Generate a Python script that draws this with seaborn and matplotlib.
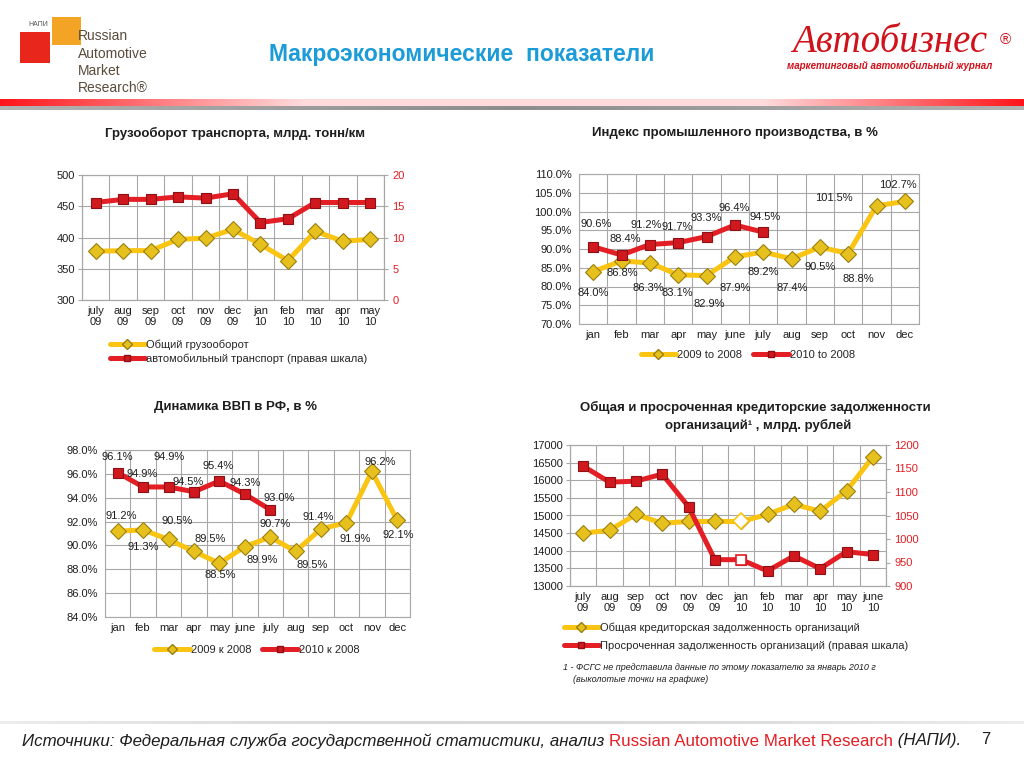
import numpy as np
import seaborn as sns
import matplotlib.pyplot as plt
from matplotlib.lines import Line2D
from matplotlib.patches import Rectangle
from matplotlib.ticker import FuncFormatter

# ---------------- data ----------------
freight_months = ['july\n09', 'aug\n09', 'sep\n09', 'oct\n09', 'nov\n09', 'dec\n09',
                  'jan\n10', 'feb\n10', 'mar\n10', 'apr\n10', 'may\n10']
freight_total = [378, 379, 379, 397, 399, 413, 389, 363, 410, 394, 397]
freight_auto = [15.6, 16.1, 16.1, 16.5, 16.3, 17.0, 12.4, 13.0, 15.6, 15.6, 15.6]

months = ['jan', 'feb', 'mar', 'apr', 'may', 'june', 'july', 'aug', 'sep', 'oct', 'nov', 'dec']
ipi_2009 = [84.0, 86.8, 86.3, 83.1, 82.9, 87.9, 89.2, 87.4, 90.5, 88.8, 101.5, 102.7]
ipi_2010 = [90.6, 88.4, 91.2, 91.7, 93.3, 96.4, 94.5]

gdp_2009 = [91.2, 91.3, 90.5, 89.5, 88.5, 89.9, 90.7, 89.5, 91.4, 91.9, 96.2, 92.1]
gdp_2010 = [96.1, 94.9, 94.9, 94.5, 95.4, 94.3, 93.0]

debt_months = ['july\n09', 'aug\n09', 'sep\n09', 'oct\n09', 'nov\n09', 'dec\n09',
               'jan\n10', 'feb\n10', 'mar\n10', 'apr\n10', 'may\n10', 'june\n10']
debt_total = [14500, 14580, 15030, 14780, 14830, 14830, 14830, 15030, 15320, 15120, 15700, 16660]
debt_overdue = [1155, 1121, 1123, 1138, 1069, 956, 956, 932, 964, 937, 973, 967]
debt_missing = ['jan\n10']

# label offsets in pixels (dx, dy; dy down is positive)
ipi_2009_off = [(0, 21), (1, 12), (-2, 25), (-1, 18), (3, 28), (0, 31), (0, 20), (1, 29),
                (0, 20), (10, 26), (-43, -8), (-7, -16)]
ipi_2010_off = [(3, -23), (4, -16), (-4, -19), (-1, -16), (0, -19), (-1, -17), (2, -15)]
gdp_2009_off = [(4, -15), (0, 17), (9, -18), (16, -12), (1, 12), (17, 13), (5, -13),
                (17, 14), (-3, -12), (9, 16), (8, -9), (1, 15)]
gdp_2010_off = [(0, -16), (-1, -13), (1, -30), (-6, -10), (-1, -15), (0, -11), (9, -12)]

# ---------------- style ----------------
W, H = 1024, 768
YEL = '#F9C512'
YEL_F = '#E6C01C'
YEL_E = '#9A7F0E'
RED = '#E31E24'
RED_F = '#D0181E'
RED_E = '#8C1014'
GRID = '#A8A8A8'
TXT = '#1E1E1E'
BLUE = '#1B9BD7'

sns.set_style('white')
plt.rcParams['font.family'] = ['Liberation Sans', 'DejaVu Sans']
plt.rcParams['font.size'] = 8

fig = plt.figure(figsize=(10.24, 7.68), dpi=100)
bg = fig.add_axes([0, 0, 1, 1])
bg.set_xlim(0, W)
bg.set_ylim(H, 0)
bg.axis('off')


def panel(x0, y0, x1, y1):
    return fig.add_axes([x0 / W, 1 - y1 / H, (x1 - x0) / W, (y1 - y0) / H])


def style(ax, labels):
    n = len(labels)
    ax.set_xlim(-0.5, n - 0.5)
    ax.set_xticks(range(n))
    ax.set_xticklabels(labels, color=TXT, fontsize=8, linespacing=1.15)
    ax.set_xticks(np.arange(n + 1) - 0.5, minor=True)
    ax.grid(which='minor', axis='x', color=GRID, lw=0.8)
    ax.grid(which='major', axis='y', color=GRID, lw=0.8)
    ax.grid(which='major', axis='x', visible=False)
    ax.tick_params(axis='x', which='both', length=0, pad=4)
    ax.tick_params(axis='y', length=3, color=GRID, labelcolor=TXT, labelsize=8, pad=2)
    for s in ax.spines.values():
        s.set_color(GRID)
        s.set_linewidth(0.8)
    ax.set_axisbelow(True)


def yellow(ax, y):
    sns.lineplot(x=np.arange(len(y)), y=y, ax=ax, color=YEL, lw=3.6, marker='D', ms=8.5,
                 mfc=YEL_F, mec=YEL_E, mew=0.8, legend=False, zorder=3)


def red(ax, y):
    sns.lineplot(x=np.arange(len(y)), y=y, ax=ax, color=RED, lw=3.6, marker='s', ms=7.5,
                 mfc=RED_F, mec=RED_E, mew=0.8, legend=False, zorder=4)


def labels(ax, y, offs):
    for i, (v, (dx, dy)) in enumerate(zip(y, offs)):
        ax.annotate(f'{v:.1f}%', (i, v), xytext=(dx, -dy), textcoords='offset pixels',
                    ha='center', va='center', fontsize=8, color=TXT, zorder=6)


H_Y = Line2D([], [], color=YEL, lw=3.6, marker='D', ms=5, mfc=YEL_F, mec=YEL_E)
H_R = Line2D([], [], color=RED, lw=3.6, marker='s', ms=5, mfc=RED_F, mec=RED_E)
pct = FuncFormatter(lambda v, p: f'{v:.1f}%')

# ---------------- header ----------------
bg.add_patch(Rectangle((20, 32), 30, 31, color='#E8261C', lw=0))
bg.add_patch(Rectangle((52, 17), 29, 28, color='#F3A425', lw=0))
bg.text(38, 25, 'НАПИ', fontsize=5, color='#555555', ha='center', va='center')
for k, w in enumerate(['Russian', 'Automotive', 'Market', 'Research®']):
    bg.text(78, 36 + 17.5 * k, w, fontsize=10, color='#5A4B3C', va='center')
bg.text(462, 55, 'Макроэкономические  показатели', fontsize=16.5, color=BLUE, weight='bold',
        ha='center', va='center')
bg.text(890, 43, 'Автобизнес', fontsize=28, color='#D0121B', style='italic',
        ha='center', va='center', family=['Liberation Serif', 'DejaVu Serif'])
bg.text(1005, 40, '®', fontsize=11, color='#D0121B', ha='center', va='center')
bg.text(890, 66, 'маркетинговый автомобильный журнал', fontsize=7, color='#D0121B',
        style='italic', weight='bold', ha='center', va='center')

# gradient bar under the header
t = np.linspace(0, 1, 512)
a = np.clip(np.maximum(1 - t / 0.35, (t - 0.7) / 0.3), 0.15, 1)
bar = np.ones((1, 512, 3))
bar[0, :, 1] = 1 - a * 0.92
bar[0, :, 2] = 1 - a * 0.9
bg.imshow(bar, extent=(0, W, 106, 99), aspect='auto', zorder=1)
shade = np.ones((1, 512, 3)) * (0.55 + 0.3 * np.abs(t - 0.5)[None, :, None])
bg.imshow(shade, extent=(0, W, 110, 106), aspect='auto', zorder=1)
bg.set_xlim(0, W)
bg.set_ylim(H, 0)

# ---------------- chart 1: freight ----------------
bg.text(235, 133, 'Грузооборот транспорта, млрд. тонн/км', fontsize=9.5, weight='bold',
        ha='center', va='center', color=TXT)
ax1 = panel(82, 175, 384, 300)
yellow(ax1, freight_total)
ax1.set_ylim(300, 500)
ax1.set_yticks(range(300, 501, 50))
style(ax1, freight_months)
ax1r = ax1.twinx()
red(ax1r, freight_auto)
ax1r.set_ylim(0, 20)
ax1r.set_yticks(range(0, 21, 5))
ax1r.tick_params(axis='y', length=3, color=GRID, labelcolor=RED, labelsize=8, pad=3)
for s in ax1r.spines.values():
    s.set_color(GRID)
ax1r.grid(False)
fig.legend([H_Y, H_R], ['Общий грузооборот', 'автомобильный транспорт (правая шкала)'],
           loc='upper left', bbox_to_anchor=(104 / W, 1 - 334 / H), frameon=False, fontsize=8,
           handlelength=3.2, handletextpad=0.1, borderpad=0, labelspacing=0.3)

# ---------------- chart 2: industrial production ----------------
bg.text(735, 133, 'Индекс промышленного производства, в %', fontsize=9.5, weight='bold',
        ha='center', va='center', color=TXT)
ax2 = panel(579, 174, 919, 324)
yellow(ax2, ipi_2009)
red(ax2, ipi_2010)
ax2.set_ylim(70, 110)
ax2.set_yticks(range(70, 111, 5))
ax2.yaxis.set_major_formatter(pct)
style(ax2, months)
labels(ax2, ipi_2009, ipi_2009_off)
labels(ax2, ipi_2010, ipi_2010_off)
fig.legend([H_Y, H_R], ['2009 to 2008', '2010 to 2008'], loc='center',
           bbox_to_anchor=(748 / W, 1 - 355 / H), ncol=2, frameon=False, fontsize=8,
           handlelength=3.2, handletextpad=0.1, borderpad=0, columnspacing=1.0)

# ---------------- chart 3: GDP ----------------
bg.text(236, 407, 'Динамика ВВП в РФ, в %', fontsize=9.5, weight='bold',
        ha='center', va='center', color=TXT)
ax3 = panel(105, 450, 410, 617)
yellow(ax3, gdp_2009)
red(ax3, gdp_2010)
ax3.set_ylim(84, 98)
ax3.set_yticks(range(84, 99, 2))
ax3.yaxis.set_major_formatter(pct)
style(ax3, months)
labels(ax3, gdp_2009, gdp_2009_off)
labels(ax3, gdp_2010, gdp_2010_off)
fig.legend([H_Y, H_R], ['2009 к 2008', '2010 к 2008'], loc='center',
           bbox_to_anchor=(257 / W, 1 - 650 / H), ncol=2, frameon=False, fontsize=8,
           handlelength=3.2, handletextpad=0.1, borderpad=0, columnspacing=1.0)

# ---------------- chart 4: debts ----------------
bg.text(755, 407, 'Общая и просроченная кредиторские задолженности', fontsize=9.5,
        weight='bold', ha='center', va='center', color=TXT)
bg.text(758, 425, 'организаций¹ , млрд. рублей', fontsize=9.5, weight='bold',
        ha='center', va='center', color=TXT)
ax4 = panel(570, 445, 886, 586)
yellow(ax4, debt_total)
ax4.set_ylim(13000, 17000)
ax4.set_yticks(range(13000, 17001, 500))
style(ax4, debt_months)
ax4r = ax4.twinx()
red(ax4r, debt_overdue)
ax4r.set_ylim(900, 1200)
ax4r.set_yticks(range(900, 1201, 50))
ax4r.tick_params(axis='y', length=3, color=GRID, labelcolor=RED, labelsize=8, pad=3)
for s in ax4r.spines.values():
    s.set_color(GRID)
ax4r.grid(False)
for m in debt_missing:
    i = debt_months.index(m)
    ax4.plot([i], [debt_total[i]], marker='D', ms=8.5, mfc='white', mec=YEL, mew=1.2, zorder=5)
    ax4r.plot([i], [debt_overdue[i]], marker='s', ms=7.5, mfc='white', mec=RED, mew=1.2, zorder=5)
fig.legend([H_Y, H_R], ['Общая кредиторская задолженность организаций',
                        'Просроченная задолженность организаций (правая шкала)'],
           loc='upper left', bbox_to_anchor=(558 / W, 1 - 617 / H), frameon=False, fontsize=8,
           handlelength=3.2, handletextpad=0.1, borderpad=0, labelspacing=0.75)
bg.text(563, 667, '1 - ФСГС не представила данные по этому показателю за январь 2010 г',
        fontsize=6.5, style='italic', va='center', color=TXT)
bg.text(573, 680, '(выколотые точки на графике)', fontsize=6.5, style='italic',
        va='center', color=TXT)

# ---------------- footer ----------------
fl = np.ones((1, 512, 3)) * (0.93 - 0.08 * np.sin(np.pi * t)[None, :, None])
bg.imshow(fl, extent=(0, W, 724, 721), aspect='auto', zorder=1)
bg.set_xlim(0, W)
bg.set_ylim(H, 0)
t1 = bg.text(22, 741, 'Источники: Федеральная служба государственной статистики, анализ ',
             fontsize=12.2, style='italic', va='center', color=TXT)
t2 = bg.annotate('Russian Automotive Market Research', xy=(1, 0.5), xycoords=t1,
                 va='center', fontsize=12.2, color=RED)
bg.annotate(' (НАПИ).', xy=(1, 0.5), xycoords=t2, va='center', fontsize=12.2,
            style='italic', color=TXT)
bg.text(986, 739, '7', fontsize=12, va='center', ha='center', color=TXT)

fig.savefig('out.png', dpi=100)
